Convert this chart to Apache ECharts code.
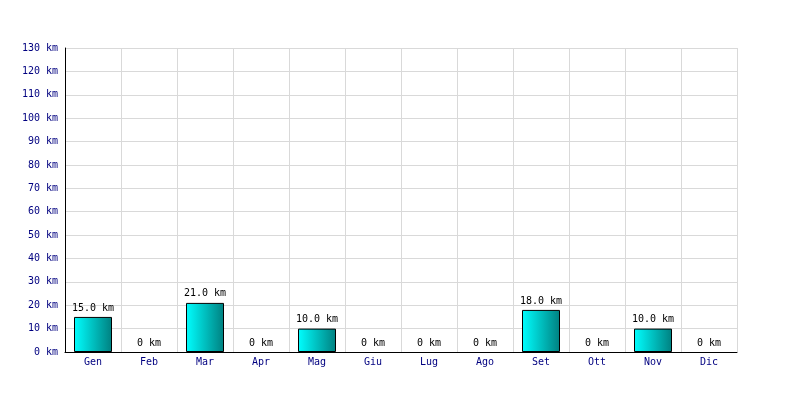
<!DOCTYPE html>
<html><head><meta charset="utf-8">
<script src="https://cdn.jsdelivr.net/npm/echarts@6/dist/echarts.min.js"></script>
<style>html,body{margin:0;padding:0;background:#fff}#c{width:800px;height:400px}</style>
</head><body><div id="c"></div>
<script>
const categories = ['Gen','Feb','Mar','Apr','Mag','Giu','Lug','Ago','Set','Ott','Nov','Dic'];
const distances = [15, 0, 21, 0, 10, 0, 0, 0, 18, 0, 10, 0];
const yMin = 0, yMax = 130, yStep = 10;
const unit = 'km';

const font = '"DejaVu Sans Mono", monospace';
const chart = echarts.init(document.getElementById('c'), null, {renderer:'canvas'});
chart.setOption({
  animation: false,
  backgroundColor: '#fff',
  grid: {left: 65, right: 63, top: 48, bottom: 48, containLabel: false},
  xAxis: {
    type: 'category', data: categories, boundaryGap: true,
    axisLine: {lineStyle: {color: '#000', width: 1}},
    axisTick: {show: false},
    splitLine: {show: true, lineStyle: {color: '#d9d9d9', width: 1}},
    axisLabel: {color: '#000080', fontFamily: font, fontSize: 10, margin: 5}
  },
  yAxis: {
    type: 'value', min: yMin, max: yMax, interval: yStep,
    axisLine: {show: true, lineStyle: {color: '#000', width: 1}},
    axisTick: {show: false},
    splitLine: {show: true, lineStyle: {color: '#d9d9d9', width: 1}},
    axisLabel: {color: '#000080', fontFamily: font, fontSize: 10, margin: 7,
      formatter: v => v + ' ' + unit}
  },
  series: [{
    type: 'bar', barWidth: 38,
    data: distances.map(v => v === 0 ? {value: v, itemStyle: {borderWidth: 0, borderColor: 'rgba(0,0,0,0)', color: 'rgba(0,0,0,0)'}} : v),
    itemStyle: {
      borderColor: '#000', borderWidth: 1,
      color: new echarts.graphic.LinearGradient(0, 0, 1, 0, [
        {offset: 0, color: '#00ffff'}, {offset: 1, color: '#008080'}])
    },
    label: {show: true, position: 'top', distance: 4, color: '#000', fontFamily: font, fontSize: 10,
      formatter: p => p.value === 0 ? '0 ' + unit : p.value.toFixed(1) + ' ' + unit}
  }]
});
</script></body></html>
